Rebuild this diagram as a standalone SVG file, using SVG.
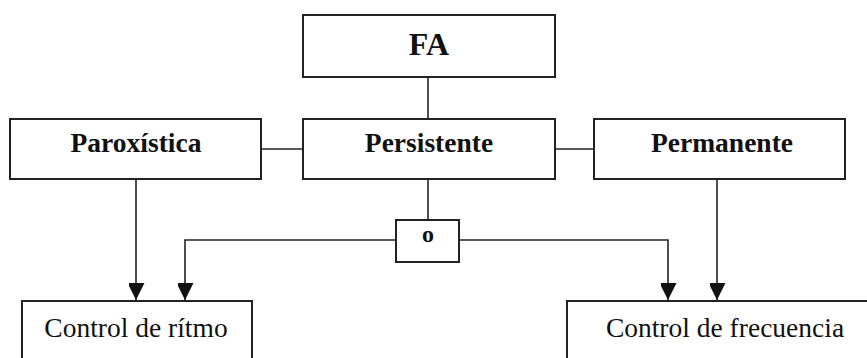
<svg xmlns="http://www.w3.org/2000/svg" width="867" height="358" viewBox="0 0 867 358">
  <style>
    .box { fill: #ffffff; stroke: #222222; stroke-width: 2; }
    .link { fill: none; stroke: #222222; stroke-width: 1.6; }
    .title { font-family: "Liberation Serif", "Times New Roman", serif; font-weight: bold; font-size: 27.5px; fill: #111111; text-anchor: middle; }
    .label { font-family: "Liberation Serif", "Times New Roman", serif; font-size: 27.5px; fill: #111111; text-anchor: middle; }
  </style>
  <defs>
    <marker id="arrow" markerUnits="userSpaceOnUse" markerWidth="18" markerHeight="16" refX="17" refY="8.5" orient="auto">
      <path d="M0,0 L17,8.5 L0,17 Z" fill="#111111"/>
    </marker>
  </defs>
  <rect width="867" height="358" fill="#ffffff"/>

  <g id="connectors">
    <line class="link" x1="428" y1="77" x2="428" y2="119"/>
    <line class="link" x1="261" y1="149" x2="303" y2="149"/>
    <line class="link" x1="555" y1="149" x2="594" y2="149"/>
    <line class="link" x1="428" y1="179" x2="428" y2="220"/>
    <path class="link" d="M136,179 V300" marker-end="url(#arrow)"/>
    <path class="link" d="M396,240 H185 V300" marker-end="url(#arrow)"/>
    <path class="link" d="M459,240 H668 V300" marker-end="url(#arrow)"/>
    <path class="link" d="M717,179 V300" marker-end="url(#arrow)"/>
  </g>

  <g id="fa">
    <rect class="box" x="303" y="15" width="252" height="62"/>
    <text class="title" x="429" y="55" style="font-size:32px">FA</text>
  </g>
  <g id="paroxistica">
    <rect class="box" x="10" y="119" width="251" height="60"/>
    <text class="title" x="136" y="152">Paroxística</text>
  </g>
  <g id="persistente">
    <rect class="box" x="303" y="119" width="252" height="60"/>
    <text class="title" x="429" y="152">Persistente</text>
  </g>
  <g id="permanente">
    <rect class="box" x="594" y="119" width="251" height="60"/>
    <text class="title" x="722" y="152">Permanente</text>
  </g>
  <g id="o">
    <rect class="box" x="396" y="220" width="63" height="42"/>
    <text class="title" x="428" y="242" style="font-size:24px">o</text>
  </g>
  <g id="control-ritmo">
    <rect class="box" x="22" y="301" width="230" height="80"/>
    <text class="label" x="136" y="337">Control de rítmo</text>
  </g>
  <g id="control-frecuencia">
    <rect class="box" x="567" y="301" width="320" height="80"/>
    <text class="label" x="725" y="337">Control de frecuencia</text>
  </g>
</svg>
